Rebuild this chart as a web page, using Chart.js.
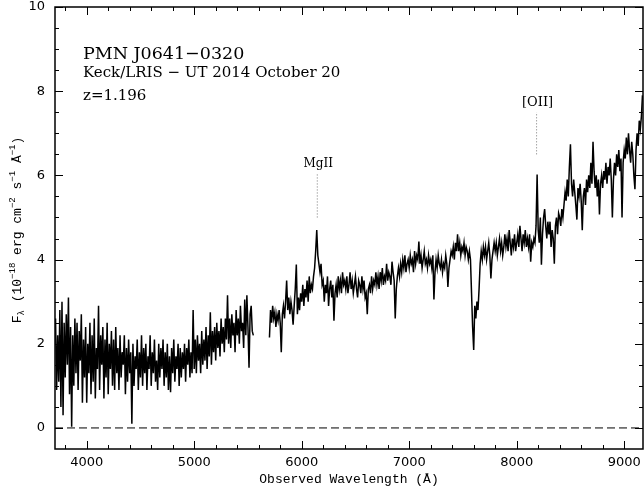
<!DOCTYPE html>
<html><head><meta charset="utf-8">
<script src="https://cdn.jsdelivr.net/npm/chart.js@4.4.0/dist/chart.umd.min.js"></script>
<style>html,body{margin:0;padding:0;background:#fff;}canvas{display:block;}</style>
</head><body>
<canvas id="c" width="644" height="489"></canvas>
<script>
// ---- data ----
const blueWave = [
3710,3720,3730,3740,3750,3760,3770,3780,3790,
3800,3810,3820,3830,3840,3850,3860,3870,3880,3890,
3900,3910,3920,3930,3940,3950,3960,3970,3980,3990,
4000,4010,4020,4030,4040,4050,4060,4070,4080,4090,
4100,4110,4120,4130,4140,4150,4160,4170,4180,4190,
4200,4210,4220,4230,4240,4250,4260,4270,4280,4290,
4300,4310,4320,4330,4340,4350,4360,4370,4380,4390,
4400,4410,4420,4430,4440,4450,4460,4470,4480,4490,
4500,4510,4520,4530,4540,4550,4560,4570,4580,4590,
4600,4610,4620,4630,4640,4650,4660,4670,4680,4690,
4700,4710,4720,4730,4740,4750,4760,4770,4780,4790,
4800,4810,4820,4830,4840,4850,4860,4870,4880,4890,
4900,4910,4920,4930,4940,4950,4960,4970,4980,4990,
5000,5010,5020,5030,5040,5050,5060,5070,5080,5090,
5100,5110,5120,5130,5140,5150,5160,5170,5180,5190,
5200,5210,5220,5230,5240,5250,5260,5270,5280,5290,
5300,5310,5320,5330,5340,5350,5360,5370,5380,5390,
5400,5410,5420,5430,5440,5450,5460,5470,5480,5490,
5500,5510,5520,5530,5540,5550];
const blueFlux = [
2.6,0.9,2.2,1.1,2.8,0.5,3.0,0.3,2.5,
1.2,2.7,1.5,3.1,0.8,2.4,0.03,2.2,1.0,2.6,
1.3,2.5,0.9,2.3,1.6,2.7,0.6,2.1,1.2,2.4,
0.6,2.0,1.3,2.5,0.8,2.2,1.1,2.6,0.7,1.9,
1.4,2.9,0.9,2.2,1.5,2.4,0.7,2.1,1.2,2.5,
0.8,2.0,1.4,2.3,1.0,2.1,0.9,2.4,1.3,1.9,
0.9,2.2,1.2,1.8,1.5,2.2,0.8,1.9,1.1,2.1,
1.3,1.8,0.1,2.0,1.0,1.7,1.4,2.1,0.9,1.8,
1.2,2.2,1.0,1.9,1.3,2.0,0.9,1.7,1.4,2.2,
1.0,1.8,1.3,2.1,1.1,1.6,0.9,2.0,1.2,1.9,
1.4,2.1,1.0,1.8,1.2,2.0,0.9,1.7,0.85,1.9,
1.3,2.1,1.1,1.7,1.4,2.0,1.0,1.9,1.2,1.8,
1.4,2.0,1.1,1.9,1.5,2.1,1.2,1.8,1.3,2.8,
1.4,2.1,1.3,2.2,1.6,2.0,1.3,2.3,1.5,2.1,
1.6,2.4,1.4,2.2,1.7,2.75,1.5,2.3,1.8,2.4,
1.6,2.5,1.9,2.3,1.7,2.6,2.0,2.4,1.8,2.6,
2.1,3.15,2.0,2.6,1.9,2.7,2.2,2.5,1.8,2.8,
2.2,2.6,2.0,2.9,2.3,2.5,1.9,3.05,2.2,3.15,
2.4,1.43,2.7,2.9,2.3,2.2];
const redWave = [
5700,5710,5720,5730,5740,5750,5760,5770,5780,5790,
5800,5810,5820,5830,5840,5850,5860,5870,5880,5890,
5900,5910,5920,5930,5940,5950,5960,5970,5980,5990,
6000,6010,6020,6030,6040,6050,6060,6070,6080,6090,
6100,6110,6120,6130,6140,6150,6160,6170,6180,6190,
6200,6210,6220,6230,6240,6250,6260,6270,6280,6290,
6300,6310,6320,6330,6340,6350,6360,6370,6380,6390,
6400,6410,6420,6430,6440,6450,6460,6470,6480,6490,
6500,6510,6520,6530,6540,6550,6560,6570,6580,6590,
6600,6610,6620,6630,6640,6650,6660,6670,6680,6690,
6700,6710,6720,6730,6740,6750,6760,6770,6780,6790,
6800,6810,6820,6830,6840,6850,6860,6870,6880,6890,
6900,6910,6920,6930,6940,6950,6960,6970,6980,6990,
7000,7010,7020,7030,7040,7050,7060,7070,7080,7090,
7100,7110,7120,7130,7140,7150,7160,7170,7180,7190,
7200,7210,7220,7230,7240,7250,7260,7270,7280,7290,
7300,7310,7320,7330,7340,7350,7360,7370,7380,7390,
7400,7410,7420,7430,7440,7450,7460,7470,7480,7490,
7500,7510,7520,7530,7540,7550,7560,7570,7580,7590,
7600,7610,7620,7630,7640,7650,7660,7670,7680,7690,
7700,7710,7720,7730,7740,7750,7760,7770,7780,7790,
7800,7810,7820,7830,7840,7850,7860,7870,7880,7890,
7900,7910,7920,7930,7940,7950,7960,7970,7980,7990,
8000,8010,8020,8030,8040,8050,8060,8070,8080,8090,
8100,8110,8120,8130,8140,8150,8160,8170,8180,8190,
8200,8210,8220,8230,8240,8250,8260,8270,8280,8290,
8300,8310,8320,8330,8340,8350,8360,8370,8380,8390,
8400,8410,8420,8430,8440,8450,8460,8470,8480,8490,
8500,8510,8520,8530,8540,8550,8560,8570,8580,8590,
8600,8610,8620,8630,8640,8650,8660,8670,8680,8690,
8700,8710,8720,8730,8740,8750,8760,8770,8780,8790,
8800,8810,8820,8830,8840,8850,8860,8870,8880,8890,
8900,8910,8920,8930,8940,8950,8960,8970,8980,8990,
9000,9010,9020,9030,9040,9050,9060,9070,9080,9090,
9100,9110,9120,9130,9140,9150,9160,9170];
const redFlux = [
2.15,2.8,2.5,2.9,2.6,2.75,2.4,2.7,2.55,2.8,
2.5,1.8,2.7,2.9,2.6,3.0,3.5,2.8,3.1,2.7,
3.0,2.8,2.45,2.9,3.3,3.88,2.7,3.1,2.8,3.2,
3.0,3.4,2.9,3.3,3.1,3.5,3.0,3.6,3.2,3.4,
3.3,3.6,3.8,4.2,4.7,4.1,3.9,3.7,3.9,3.4,
3.5,3.0,3.4,3.2,3.6,2.9,3.3,3.5,3.1,3.4,
2.55,3.2,3.4,3.1,3.6,3.3,3.5,3.2,3.7,3.4,
3.5,3.3,3.6,3.2,3.4,3.7,3.3,3.5,3.2,3.4,
3.6,3.3,3.1,3.5,3.4,3.2,3.6,3.3,3.5,3.1,
3.2,2.7,3.3,3.4,3.2,3.6,3.3,3.5,3.4,3.7,
3.4,3.6,3.3,3.7,3.5,3.8,3.4,3.6,3.5,3.9,
3.5,3.7,3.6,3.4,3.95,3.7,3.5,2.6,3.3,3.6,
3.8,3.6,3.9,3.7,4.0,3.8,4.1,3.7,3.9,4.0,
3.8,4.1,3.9,4.0,3.7,4.2,3.9,4.1,4.0,4.43,
3.9,4.1,3.8,4.0,4.2,3.9,4.0,3.8,4.1,3.9,
4.0,3.8,4.1,3.05,3.7,4.0,3.8,4.1,3.9,3.8,
4.0,3.7,3.9,3.8,4.1,3.9,3.35,3.8,4.0,4.2,
4.1,4.3,4.0,4.4,4.2,4.6,4.2,4.4,4.1,4.3,
4.2,4.4,4.1,4.3,4.2,4.0,4.2,4.0,3.2,2.4,
1.85,2.9,2.6,3.0,2.8,3.3,3.9,4.2,4.0,4.3,
4.1,4.3,4.0,4.2,4.4,4.1,3.55,4.0,4.2,4.4,
4.2,4.4,4.1,4.3,4.5,4.2,4.4,4.1,4.3,4.6,
4.3,4.5,4.2,4.7,4.4,4.1,4.5,4.3,4.6,4.2,
4.4,4.6,4.3,4.8,4.5,4.2,4.6,4.4,4.7,4.3,
4.5,4.3,4.6,3.95,4.4,4.3,4.5,4.4,4.8,6.02,
4.7,4.4,5.0,3.88,4.6,5.0,5.2,4.8,4.5,4.9,
4.6,4.9,4.3,4.7,4.5,3.9,4.8,5.0,4.6,5.1,
5.0,4.8,5.2,5.0,5.3,5.6,5.4,5.9,5.5,6.2,
6.74,5.8,5.5,5.9,5.6,5.3,4.95,5.7,5.5,5.8,
5.4,4.7,5.5,5.7,5.3,5.9,5.6,6.0,5.7,6.3,
5.8,6.8,6.1,5.7,6.0,5.5,5.9,5.07,5.8,6.0,
5.7,6.1,5.9,6.3,5.8,6.2,6.0,6.4,5.9,5.0,
5.9,6.3,6.0,6.5,6.2,6.6,6.1,6.4,5.0,6.3,
6.6,6.4,6.9,6.5,7.0,6.6,6.3,6.8,6.5,6.0,
5.67,6.6,7.0,6.7,7.3,7.1,7.4,7.9];

const zeroWave = [3705, 9175];
const zeroFlux = [0, 0];

const lineNames = ['MgII', '[OII]'];
const lineWave = [6145, 8185];
const lineTop = [6.05, 7.5];
const lineBottom = [5.0, 6.5];

const xMajorTicks = [4000, 5000, 6000, 7000, 8000, 9000];
const xMinorTicks = [3800, 4200, 4400, 4600, 4800, 5200, 5400, 5600, 5800, 6200, 6400, 6600, 6800, 7200, 7400, 7600, 7800, 8200, 8400, 8600, 8800];
const yMajorTicks = [0, 2, 4, 6, 8, 10];
const yMinorTicks = [0.5, 1, 1.5, 2.5, 3, 3.5, 4.5, 5, 5.5, 6.5, 7, 7.5, 8.5, 9, 9.5];

const infoLines = ['PMN J0641\u22120320', 'Keck/LRIS \u2212 UT 2014 October 20', 'z=1.196'];
const xTitle = 'Observed Wavelength (\u00C5)';
// y title pieces: [text, -1 sub / 0 normal / 1 super]
const yTitleParts = [['F',0],['\u03BB',-1],[' (10',0],['\u221218',1],[' erg cm',0],['\u22122',1],[' s',0],['\u22121',1],[' \u00C5',0],['\u22121',1],[')',0]];

// ---- build datasets ----
const toXY = (w, f) => w.map((v, i) => ({x: v, y: f[i]}));
const datasets = [
  {data: toXY(blueWave, blueFlux), borderColor: '#000', borderWidth: 1.5, pointRadius: 0, tension: 0, fill: false},
  {data: toXY(redWave, redFlux), borderColor: '#000', borderWidth: 1.5, pointRadius: 0, tension: 0, fill: false},
  {data: toXY(zeroWave, zeroFlux), borderColor: '#000', borderWidth: 1, borderDash: [8, 4], pointRadius: 0, fill: false}
];
lineWave.forEach((w, i) => {
  datasets.push({data: [{x: w, y: lineBottom[i]}, {x: w, y: lineTop[i]}], borderColor: '#777', borderWidth: 1, borderDash: [1, 2], pointRadius: 0, fill: false});
});

const decorPlugin = {
  id: 'decor',
  afterDraw(chart) {
    const ctx = chart.ctx;
    const a = chart.chartArea;
    const xs = chart.scales.x, ys = chart.scales.y;
    ctx.save();
    // frame
    ctx.strokeStyle = '#000';
    ctx.lineWidth = 1.5;
    ctx.strokeRect(a.left, a.top, a.right - a.left, a.bottom - a.top);
    // inward ticks
    ctx.lineWidth = 1;
    ctx.beginPath();
    const xt = (v, len) => {
      const p = Math.round(xs.getPixelForValue(v)) + 0.5;
      ctx.moveTo(p, a.bottom); ctx.lineTo(p, a.bottom - len);
      ctx.moveTo(p, a.top); ctx.lineTo(p, a.top + len);
    };
    const yt = (v, len) => {
      const p = Math.round(ys.getPixelForValue(v)) + 0.5;
      ctx.moveTo(a.left, p); ctx.lineTo(a.left + len, p);
      ctx.moveTo(a.right, p); ctx.lineTo(a.right - len, p);
    };
    xMajorTicks.forEach(v => xt(v, 8));
    xMinorTicks.forEach(v => xt(v, 4));
    yMajorTicks.forEach(v => yt(v, 8));
    yMinorTicks.forEach(v => yt(v, 4));
    ctx.stroke();

    // info text
    ctx.fillStyle = '#000';
    ctx.textBaseline = 'alphabetic';
    ctx.textAlign = 'left';
    ctx.font = '17.5px "DejaVu Serif"';
    ctx.fillText(infoLines[0], a.left + 28, a.top + 52);
    ctx.font = '15px "DejaVu Serif"';
    ctx.fillText(infoLines[1], a.left + 28, a.top + 70);
    ctx.fillText(infoLines[2], a.left + 28, a.top + 93);

    // line labels
    ctx.textAlign = 'center';
    lineNames.forEach((n, i) => {
      ctx.font = (i === 0 ? '12px' : '13px') + ' "DejaVu Serif"';
      const px = xs.getPixelForValue(lineWave[i]);
      const py = ys.getPixelForValue(lineTop[i]);
      ctx.fillText(n, px + 1, py - 6);
    });

    // y title with sub/superscripts
    ctx.translate(20.5, (a.top + a.bottom) / 2 + 2);
    ctx.rotate(-Math.PI / 2);
    ctx.textAlign = 'left';
    const big = '13px "Liberation Mono"', small = '9px "Liberation Mono"';
    let total = 0;
    yTitleParts.forEach(([t, k]) => { ctx.font = k === 0 ? big : small; total += ctx.measureText(t).width; });
    let x = -total / 2;
    yTitleParts.forEach(([t, k]) => {
      ctx.font = k === 0 ? big : small;
      const dy = k === 0 ? 0 : (k > 0 ? -6 : 3);
      ctx.fillText(t, x, dy);
      x += ctx.measureText(t).width;
    });
    ctx.restore();
  }
};

new Chart(document.getElementById('c').getContext('2d'), {
  type: 'line',
  data: {datasets},
  options: {
    responsive: false,
    animation: false,
    devicePixelRatio: 1,
    events: [],
    plugins: {legend: {display: false}, tooltip: {enabled: false}},
    layout: {padding: {top: 7, right: 1, left: 0, bottom: 0}},
    scales: {
      x: {
        type: 'linear', min: 3705, max: 9175,
        grid: {display: false, drawTicks: false},
        border: {display: false},
        afterBuildTicks: s => { s.ticks = xMajorTicks.map(v => ({value: v})); },
        ticks: {color: '#000', font: {family: 'DejaVu Sans', size: 13}, padding: 6, maxRotation: 0, autoSkip: false, callback: v => String(v)},
        title: {display: true, text: xTitle, color: '#000', font: {family: 'Liberation Mono', size: 13}, padding: {top: 2, bottom: 2}},
        afterFit: s => { s.height = 40; s.paddingLeft = 0; s.paddingRight = 0; }
      },
      y: {
        type: 'linear', min: -0.5, max: 10,
        grid: {display: false, drawTicks: false},
        border: {display: false},
        afterBuildTicks: s => { s.ticks = yMajorTicks.map(v => ({value: v})); },
        ticks: {color: '#000', font: {family: 'DejaVu Sans', size: 13}, padding: 10, callback: v => String(v)},
        afterFit: s => { s.width = 55; s.paddingTop = 0; s.paddingBottom = 0; }
      }
    }
  },
  plugins: [decorPlugin]
});
</script>
</body></html>
